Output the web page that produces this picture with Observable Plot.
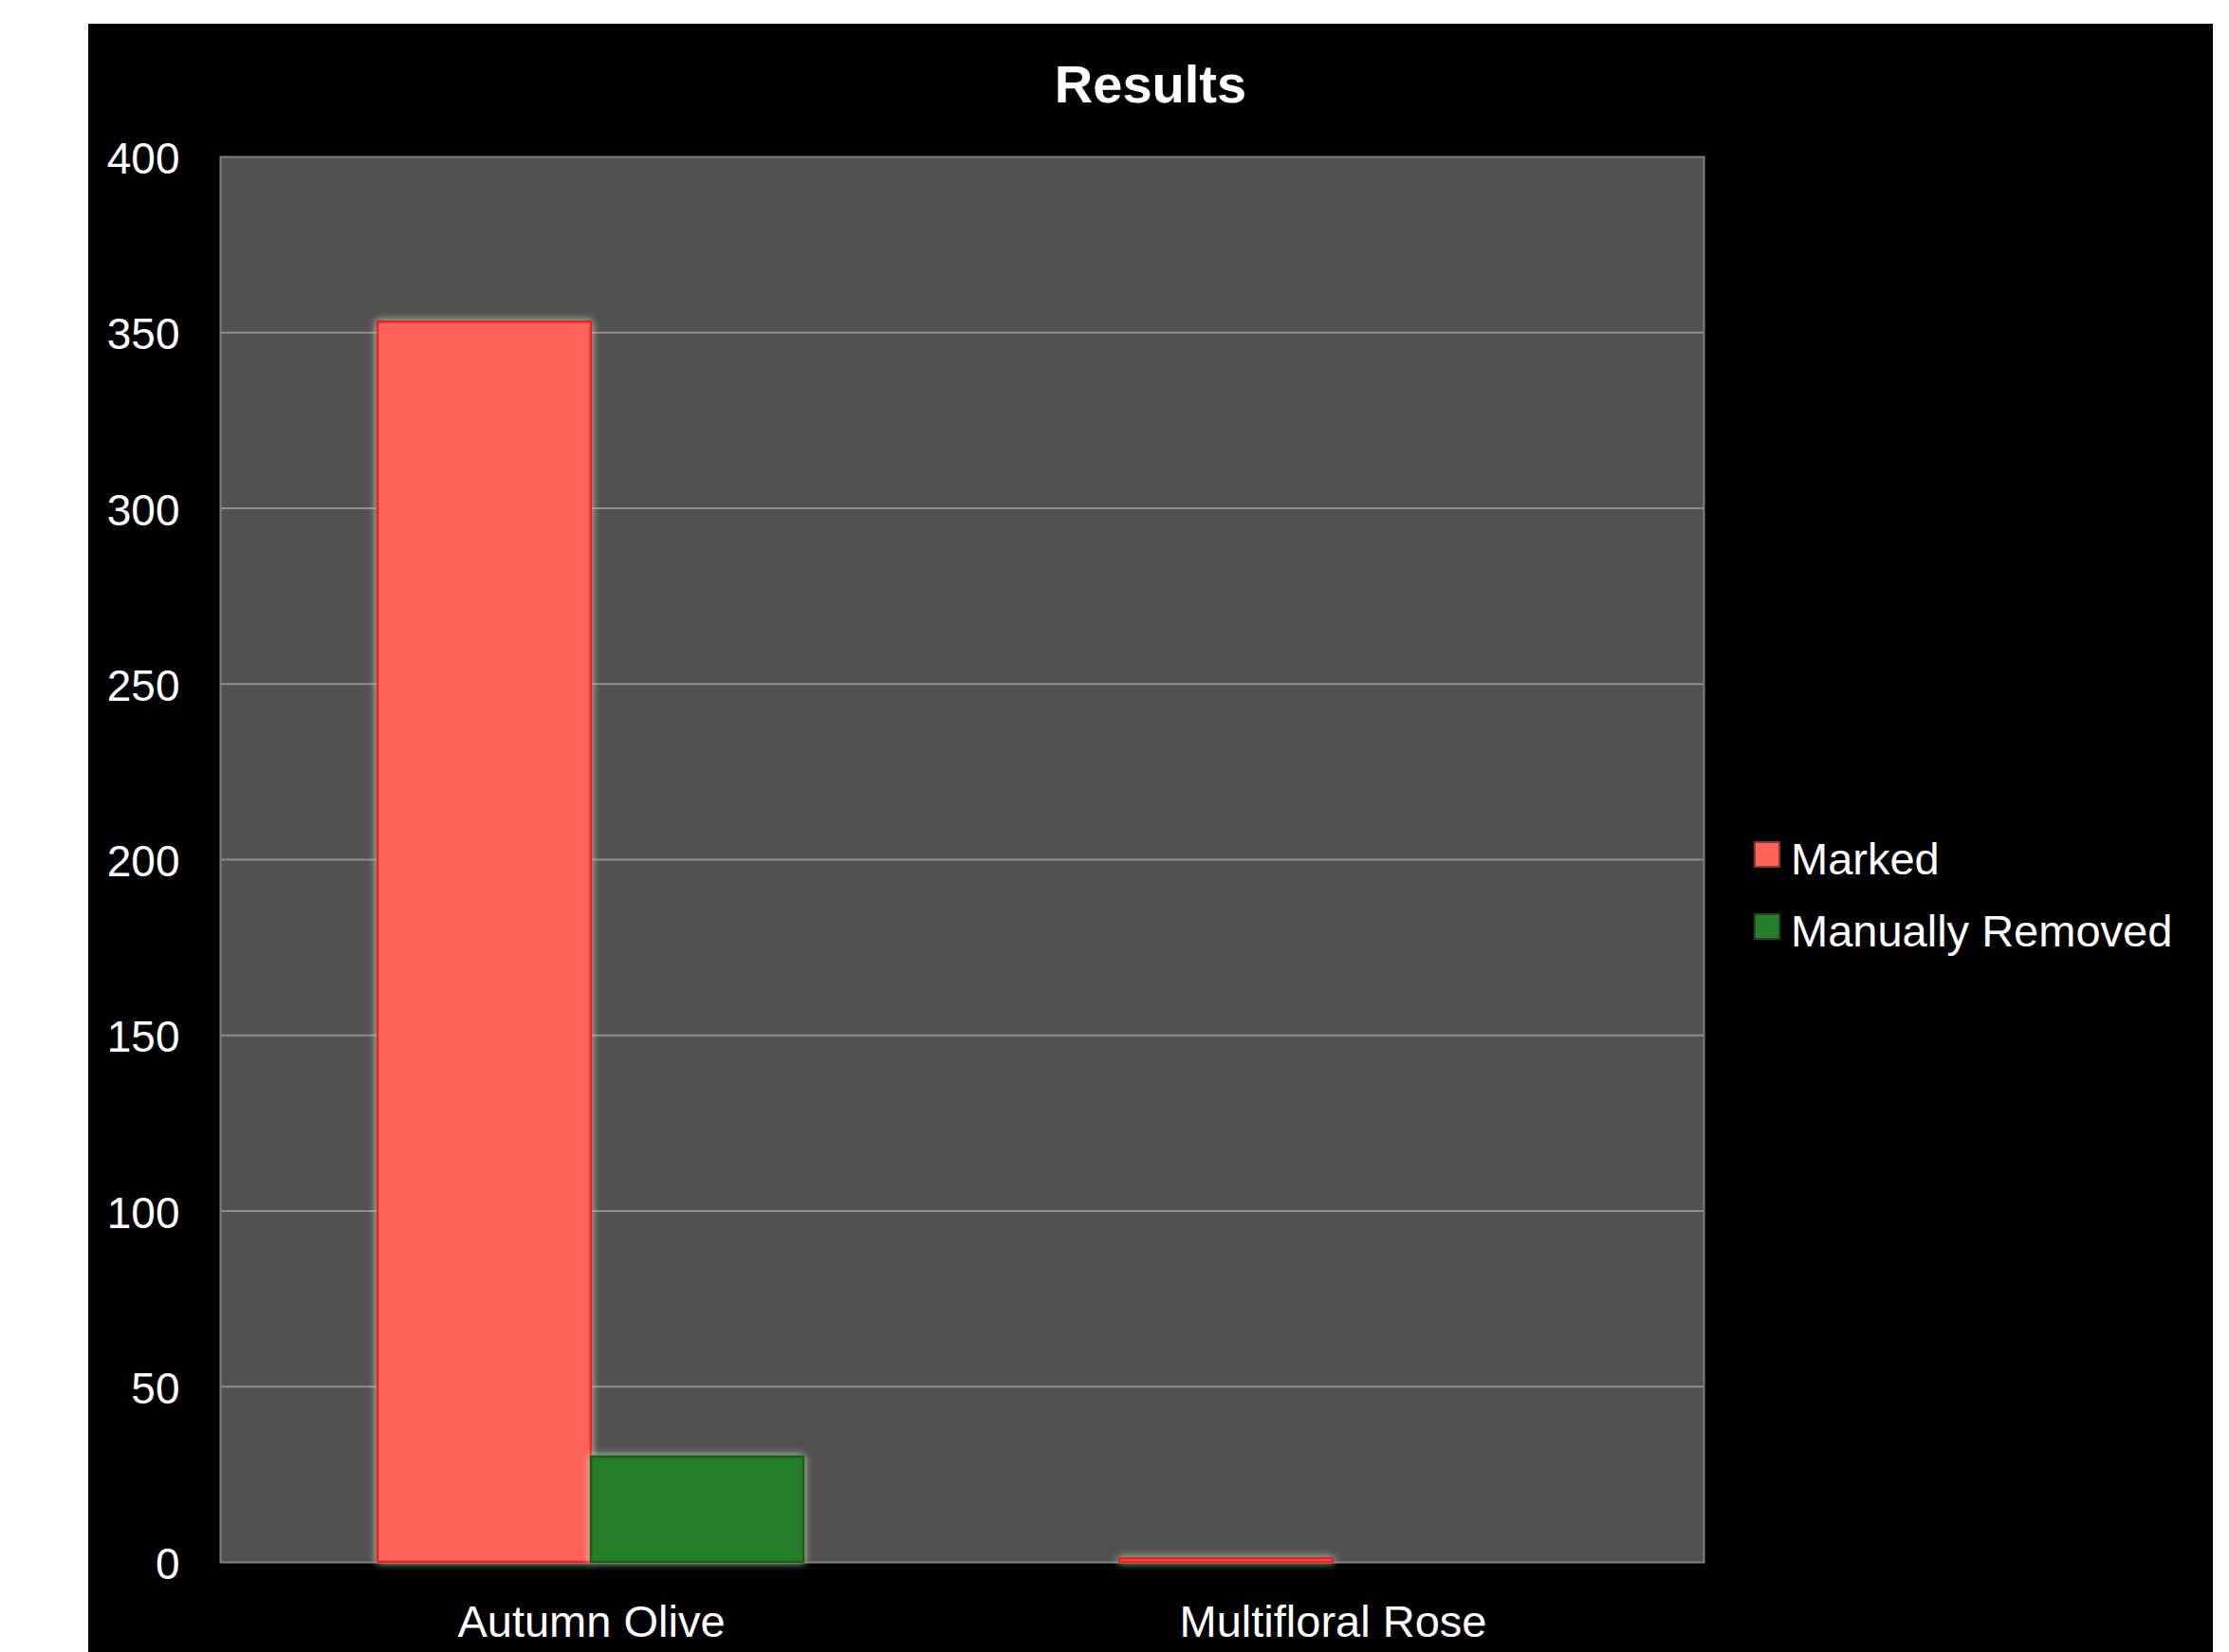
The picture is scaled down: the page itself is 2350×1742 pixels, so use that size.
<!DOCTYPE html>
<html>
<head>
<meta charset="utf-8">
<script src="https://cdn.jsdelivr.net/npm/d3@7"></script>
<script src="https://cdn.jsdelivr.net/npm/@observablehq/plot@0.6"></script>
<style>
  html, body { margin: 0; padding: 0; background: #ffffff; width: 2350px; height: 1742px; overflow: hidden;
    font-family: "Liberation Sans", Arial, sans-serif; }
  #panel { position: absolute; left: 93px; top: 25px; width: 2240px; height: 1717px; background: #000000; }
  #title { position: absolute; left: 0; top: 36px; width: 2240px; text-align: center; color: #ffffff;
    font-size: 56px; line-height: 56px; font-weight: bold; z-index: 2; }
  #chart { position: absolute; left: 0; top: 75px; }
  .legrow { position: absolute; left: 1756px; height: 56px; }
  .legrow .sw { position: absolute; left: 0; width: 24px; height: 24px; border: 2px solid; }
  .legrow .lt { position: absolute; left: 39px; top: 0; color: #ffffff; font-size: 47px; line-height: 47px; white-space: nowrap; }
  #chart g[aria-label="bar"] { filter: drop-shadow(0 0 4px rgba(212, 222, 200, 0.95)); }
</style>
</head>
<body>
<div id="panel">
  <div id="chart"></div>
  <div id="title">Results</div>
  <div id="legend"></div>
</div>
<script>
// ---- data ----
const categories = ["Autumn Olive", "Multifloral Rose"];
const series = ["Marked", "Manually Removed"];
const markedValues = [353, 1];
const removedValues = [30, 0];
const yTicks = [0, 50, 100, 150, 200, 250, 300, 350, 400];
const fillColors = ["#ff6259", "#267d2a"];
const strokeColors = ["#e5261c", "#175f1b"];
const chartTitle = "Results";

// table built from the arrays
const rows = categories.flatMap((c, i) => [
  {category: c, series: series[0], value: markedValues[i]},
  {category: c, series: series[1], value: removedValues[i]}
]);

document.getElementById("title").textContent = chartTitle;

const chart = Plot.plot({
  width: 1705,
  height: 1642,
  marginLeft: 139,
  marginRight: 2,
  marginTop: 65,
  marginBottom: 95,
  style: {background: "transparent", color: "#ffffff", fontFamily: "Liberation Sans, Arial, sans-serif", fontSize: "46px"},
  x: {domain: categories, padding: 0, label: null},
  y: {domain: [0, 400], label: null},
  marks: [
    Plot.frame({fill: "#515151"}),
    Plot.gridY(yTicks.filter(v => v > 0 && v < 400), {stroke: "#8d8d8d", strokeOpacity: 1, strokeWidth: 2}),
    Plot.frame({stroke: "#808080", strokeWidth: 2}),
    Plot.barY(rows.filter(d => d.series === series[0] && d.value > 0), {
      x: "category", y: "value", fill: fillColors[0], stroke: strokeColors[0], strokeWidth: 2.5,
      insetLeft: 166, insetRight: 391
    }),
    Plot.barY(rows.filter(d => d.series === series[1] && d.value > 0), {
      x: "category", y: "value", fill: fillColors[1], stroke: strokeColors[1], strokeWidth: 2.5,
      insetLeft: 391, insetRight: 167
    }),
    Plot.axisY({ticks: yTicks, tickSize: 0, tickPadding: 43, fontSize: 46, dy: 3, label: null}),
    Plot.axisX({tickSize: 0, tickPadding: 45, fontSize: 47, label: null})
  ]
});
document.getElementById("chart").appendChild(chart);

// legend
const legend = document.getElementById("legend");
const legTops = [857, 933];
series.forEach((s, i) => {
  const row = document.createElement("div");
  row.className = "legrow";
  row.style.top = legTops[i] + "px";
  const sw = document.createElement("div");
  sw.className = "sw";
  sw.style.top = "5px";
  sw.style.background = fillColors[i];
  sw.style.borderColor = i === 0 ? "#8a3a22" : "#1d4a20";
  const lt = document.createElement("div");
  lt.className = "lt";
  lt.textContent = s;
  row.appendChild(sw);
  row.appendChild(lt);
  legend.appendChild(row);
});
</script>
</body>
</html>
